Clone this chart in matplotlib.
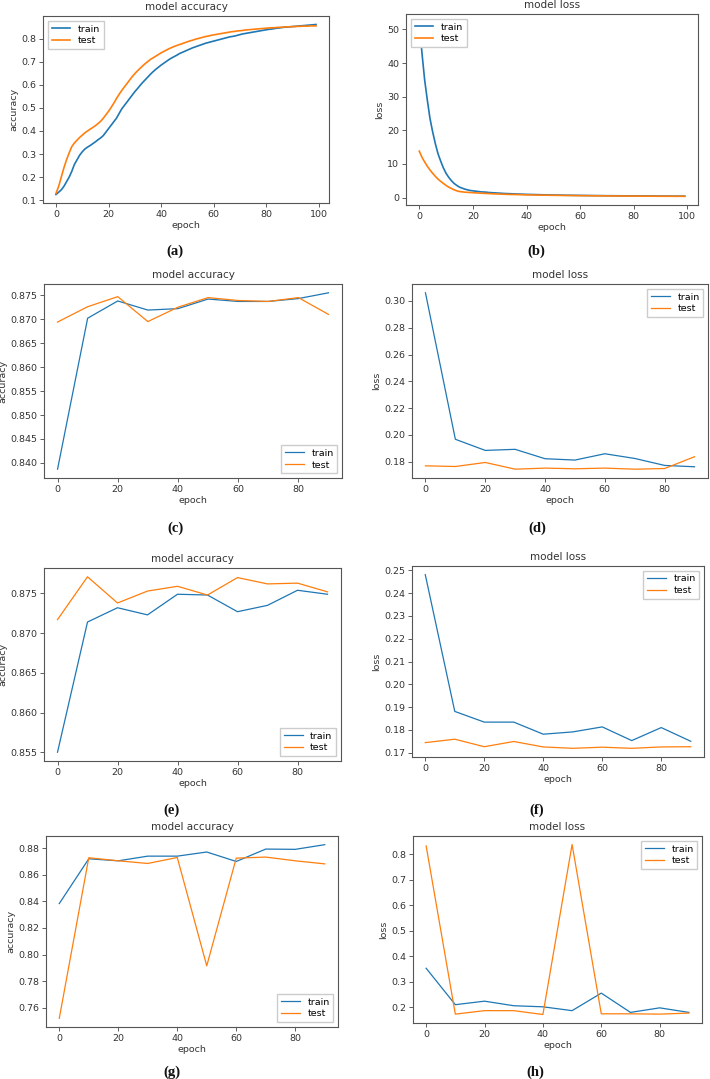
import matplotlib.pyplot as plt
from matplotlib.ticker import MultipleLocator

# (a) / (b): 100 epochs
epochs_100 = list(range(100))
train_acc_a = [0.125, 0.135, 0.145, 0.160, 0.180, 0.200, 0.225, 0.255, 0.275, 0.295,
               0.310, 0.322, 0.330, 0.337, 0.345, 0.353, 0.362, 0.370, 0.380, 0.395,
               0.410, 0.425, 0.440, 0.455, 0.475, 0.495, 0.510, 0.525, 0.540, 0.555,
               0.570, 0.583, 0.597, 0.610, 0.622, 0.634, 0.646, 0.657, 0.667, 0.676,
               0.685, 0.693, 0.701, 0.709, 0.716, 0.722, 0.728, 0.735, 0.740, 0.745,
               0.750, 0.755, 0.760, 0.764, 0.768, 0.772, 0.776, 0.780, 0.783, 0.786,
               0.789, 0.792, 0.795, 0.798, 0.801, 0.804, 0.807, 0.809, 0.811, 0.814,
               0.817, 0.820, 0.822, 0.824, 0.826, 0.828, 0.830, 0.832, 0.834, 0.836,
               0.838, 0.840, 0.841, 0.843, 0.845, 0.846, 0.848, 0.849, 0.850, 0.851,
               0.852, 0.853, 0.854, 0.855, 0.856, 0.857, 0.858, 0.859, 0.860, 0.861]
test_acc_a = [0.130, 0.160, 0.200, 0.240, 0.275, 0.305, 0.332, 0.348, 0.360, 0.372,
              0.382, 0.392, 0.400, 0.408, 0.415, 0.423, 0.432, 0.442, 0.455, 0.470,
              0.485, 0.502, 0.520, 0.540, 0.558, 0.575, 0.590, 0.605, 0.620, 0.635,
              0.648, 0.660, 0.671, 0.682, 0.692, 0.701, 0.710, 0.717, 0.724, 0.731,
              0.738, 0.744, 0.750, 0.756, 0.761, 0.766, 0.770, 0.774, 0.778, 0.782,
              0.786, 0.790, 0.793, 0.797, 0.800, 0.803, 0.806, 0.809, 0.811, 0.814,
              0.816, 0.818, 0.820, 0.822, 0.824, 0.826, 0.828, 0.830, 0.831, 0.833,
              0.834, 0.835, 0.837, 0.838, 0.839, 0.840, 0.841, 0.842, 0.843, 0.844,
              0.845, 0.846, 0.847, 0.847, 0.848, 0.849, 0.849, 0.850, 0.851, 0.851,
              0.852, 0.852, 0.853, 0.853, 0.854, 0.854, 0.854, 0.855, 0.855, 0.855]
train_loss_b = [52.0, 43.0, 35.0, 29.0, 23.5, 19.5, 16.0, 13.0, 10.8, 8.8,
                7.2, 6.0, 5.0, 4.2, 3.6, 3.1, 2.8, 2.5, 2.3, 2.1, 2.0,
                1.9, 1.8, 1.7, 1.65, 1.6, 1.5, 1.45, 1.4, 1.35, 1.3,
                1.25, 1.2, 1.17, 1.14, 1.1, 1.07, 1.04, 1.01, 0.98, 0.95,
                0.93, 0.91, 0.89, 0.87, 0.85, 0.83, 0.81, 0.79, 0.77, 0.76,
                0.74, 0.73, 0.72, 0.70, 0.69, 0.68, 0.67, 0.66, 0.65, 0.64,
                0.63, 0.62, 0.61, 0.60, 0.59, 0.58, 0.58, 0.57, 0.56, 0.55,
                0.55, 0.54, 0.53, 0.53, 0.52, 0.51, 0.51, 0.50, 0.50, 0.49,
                0.49, 0.48, 0.48, 0.47, 0.47, 0.46, 0.46, 0.45, 0.45, 0.45,
                0.44, 0.44, 0.43, 0.43, 0.43, 0.42, 0.42, 0.42, 0.41]
test_loss_b = [13.8, 12.0, 10.6, 9.3, 8.2, 7.2, 6.3, 5.5, 4.8, 4.2,
               3.6, 3.1, 2.7, 2.3, 2.0, 1.8, 1.7, 1.6, 1.55, 1.5, 1.45,
               1.4, 1.35, 1.3, 1.26, 1.22, 1.18, 1.14, 1.1, 1.07, 1.04,
               1.01, 0.98, 0.95, 0.93, 0.91, 0.89, 0.87, 0.85, 0.83, 0.81,
               0.79, 0.78, 0.76, 0.75, 0.73, 0.72, 0.71, 0.70, 0.68, 0.67,
               0.66, 0.65, 0.64, 0.63, 0.62, 0.61, 0.60, 0.59, 0.58, 0.57,
               0.56, 0.55, 0.55, 0.54, 0.53, 0.52, 0.52, 0.51, 0.50, 0.50,
               0.49, 0.48, 0.48, 0.47, 0.47, 0.46, 0.46, 0.45, 0.45, 0.44,
               0.44, 0.43, 0.43, 0.42, 0.42, 0.42, 0.41, 0.41, 0.40, 0.40,
               0.40, 0.39, 0.39, 0.39, 0.38, 0.38, 0.38, 0.37, 0.37]

# (c)-(h): one point every 10 epochs
epochs_10 = [0, 10, 20, 30, 40, 50, 60, 70, 80, 90]
train_acc_c = [0.8387, 0.8702, 0.8738, 0.8719, 0.8722, 0.8742, 0.8737, 0.8737, 0.8743, 0.8755]
test_acc_c = [0.8694, 0.8726, 0.8747, 0.8695, 0.8725, 0.8745, 0.8739, 0.8737, 0.8745, 0.8710]
train_loss_d = [0.306, 0.1968, 0.1885, 0.1893, 0.1823, 0.1813, 0.1860, 0.1825, 0.1773, 0.1763]
test_loss_d = [0.1770, 0.1765, 0.1795, 0.1745, 0.1753, 0.1748, 0.1753, 0.1745, 0.1750, 0.1838]
train_acc_e = [0.8550, 0.8714, 0.8732, 0.8723, 0.8749, 0.8748, 0.8727, 0.8735, 0.8754, 0.8749]
test_acc_e = [0.8717, 0.8771, 0.8738, 0.8753, 0.8759, 0.8748, 0.8770, 0.8762, 0.8763, 0.8752]
train_loss_f = [0.2481, 0.1881, 0.1834, 0.1834, 0.1781, 0.1791, 0.1813, 0.1753, 0.1810, 0.1750]
test_loss_f = [0.1744, 0.1759, 0.1726, 0.1749, 0.1725, 0.1719, 0.1724, 0.1719, 0.1725, 0.1726]
train_acc_g = [0.8383, 0.8719, 0.8704, 0.8739, 0.8739, 0.8770, 0.8699, 0.8792, 0.8790, 0.8825]
test_acc_g = [0.7522, 0.8727, 0.8704, 0.8684, 0.8729, 0.7916, 0.8724, 0.8732, 0.8704, 0.8681]
train_loss_h = [0.3525, 0.2095, 0.2233, 0.2054, 0.2012, 0.1861, 0.2549, 0.1792, 0.1971, 0.1792]
test_loss_h = [0.8326, 0.1725, 0.1861, 0.1861, 0.1710, 0.8380, 0.1737, 0.1737, 0.1725, 0.1765]

W, H = 710, 1079
fig = plt.figure(figsize=(W / 100, H / 100), dpi=100)
txt = '#333333'
plt.rcParams['font.family'] = 'DejaVu Sans'


def panel(box, x, tr, te, kind, loc, lw, ystep, caption, cap_x, cap_y):
    l, r, t, b = box
    ax = fig.add_axes([l / W, 1 - b / H, (r - l) / W, (b - t) / H])
    ax.plot(x, tr, color='#1f77b4', lw=lw, label='train')
    ax.plot(x, te, color='#ff7f0e', lw=lw, label='test')
    ax.set_title('model ' + kind, fontsize=7.5, color=txt, pad=4.5)
    ax.set_xlabel('epoch', fontsize=6.8, color=txt, labelpad=2)
    ax.set_ylabel(kind, fontsize=6.8, color=txt, labelpad=2)
    ax.xaxis.set_major_locator(MultipleLocator(20))
    ax.yaxis.set_major_locator(MultipleLocator(ystep))
    ax.tick_params(labelsize=6.8, labelcolor=txt, length=2.8, width=0.6, pad=2, color='#444444')
    for s in ax.spines.values():
        s.set_color('#555555')
        s.set_linewidth(0.8)
    ax.legend(loc=loc, fontsize=6.8, frameon=True, handlelength=2.0,
              borderpad=0.4, labelspacing=0.3, handletextpad=0.8, fancybox=False,
              framealpha=1, edgecolor='#cccccc')
    fig.text(cap_x / W, 1 - cap_y / H, caption, ha='center', va='center',
             fontsize=10.5, family='Liberation Serif', fontweight='bold', color='#111111')
    return ax


panel((43, 329, 16, 203), epochs_100, train_acc_a, test_acc_a, 'accuracy', 'upper left', 1.2, 0.1, '(a)', 175, 251)
panel((406, 698, 14, 205), epochs_100, train_loss_b, test_loss_b, 'loss', 'upper left', 1.2, 10, '(b)', 536, 251)
panel((44, 342, 284, 478), epochs_10, train_acc_c, test_acc_c, 'accuracy', 'lower right', 0.9, 0.005, '(c)', 175, 528)
panel((412, 708, 284, 478), epochs_10, train_loss_d, test_loss_d, 'loss', 'upper right', 0.9, 0.02, '(d)', 537, 528)
panel((44, 341, 568, 761), epochs_10, train_acc_e, test_acc_e, 'accuracy', 'lower right', 0.9, 0.005, '(e)', 172, 810)
panel((412, 704, 566, 757), epochs_10, train_loss_f, test_loss_f, 'loss', 'upper right', 0.9, 0.01, '(f)', 537, 810)
panel((46, 338, 836, 1027), epochs_10, train_acc_g, test_acc_g, 'accuracy', 'lower right', 0.9, 0.02, '(g)', 172, 1072)
panel((413, 702, 836, 1023), epochs_10, train_loss_h, test_loss_h, 'loss', 'upper right', 0.9, 0.1, '(h)', 535, 1072)

fig.savefig('out.png', dpi=100)
